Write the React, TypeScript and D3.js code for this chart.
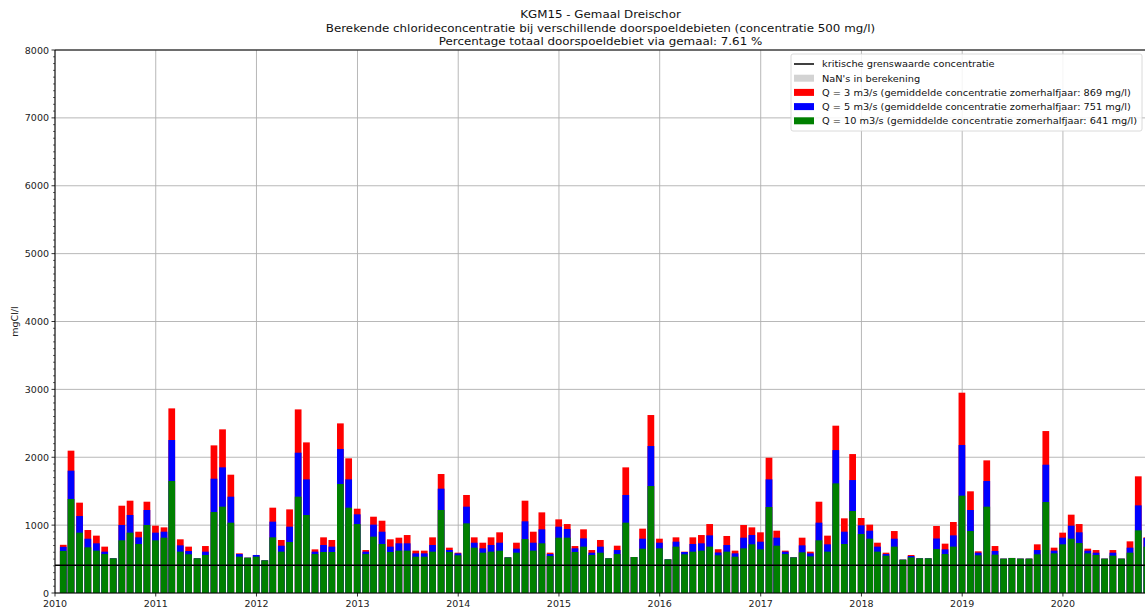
import React from "react";
import * as d3 from "d3";

// ---- Data (monthly, Jan 2010 .. Oct 2020), values in mg Cl/l ----
const startYear = 2010;
// Q = 10 m3/s (green)
const q10: number[] = [
  620, 1385, 889, 673, 624, 574, 511, 776, 889, 722, 1002, 776,
  815, 1650, 609, 570, 511, 560, 1193, 1272, 1036, 535, 520, 535,
  481, 820, 609, 751, 1419, 1149, 574, 604, 604, 1606, 1257, 1016,
  574, 830, 722, 604, 624, 624, 535, 535, 609, 1223, 604, 555,
  1026, 668, 594, 609, 624, 525, 594, 795, 624, 732, 545, 815,
  815, 604, 683, 560, 594, 511, 574, 1036, 530, 653, 1576, 658,
  496, 683, 570, 609, 624, 683, 555, 609, 535, 658, 717, 643,
  1267, 697, 574, 525, 599, 540, 776, 609, 1615, 722, 1208, 869,
  800, 609, 550, 683, 491, 525, 511, 511, 648, 574, 683, 1434,
  913, 555, 1272, 565, 506, 516, 506, 506, 570, 1340, 584, 717,
  800, 736, 584, 560, 506, 550, 506, 594, 923, 683,
];
// Q = 5 m3/s (blue)
const q5: number[] = [
  680, 1802, 1134, 800, 732, 609, 511, 1002, 1149, 820, 1223, 889,
  903, 2254, 702, 619, 511, 609, 1684, 1851, 1419, 574, 520, 560,
  481, 1051, 697, 977, 2067, 1674, 609, 707, 683, 2121, 1674, 1159,
  609, 1007, 903, 683, 732, 732, 584, 584, 707, 1537, 633, 584,
  1272, 741, 658, 707, 741, 525, 653, 1056, 741, 938, 574, 977,
  943, 658, 805, 594, 683, 511, 633, 1444, 530, 800, 2165, 741,
  496, 756, 604, 722, 732, 849, 597, 707, 584, 815, 854, 756,
  1674, 815, 609, 525, 702, 584, 1036, 717, 2106, 903, 1664, 997,
  918, 683, 574, 800, 491, 545, 511, 511, 803, 643, 849, 2180,
  1223, 594, 1650, 619, 506, 516, 506, 506, 633, 1890, 624, 815,
  992, 894, 624, 594, 506, 594, 506, 668, 1291, 810,
];
// Q = 3 m3/s (red)
const q3: number[] = [
  710, 2097, 1331, 928, 845, 683, 511, 1286, 1360, 903, 1345, 992,
  967, 2720, 791, 683, 511, 692, 2175, 2411, 1743, 584, 520, 560,
  481, 1257, 781, 1232, 2705, 2219, 643, 820, 781, 2499, 1984, 1242,
  633, 1124, 1065, 791, 815, 854, 624, 624, 820, 1753, 668, 594,
  1444, 820, 741, 820, 894, 525, 741, 1360, 903, 1188, 594, 1085,
  1016, 692, 938, 633, 781, 511, 697, 1851, 530, 948, 2622, 800,
  496, 820, 609, 820, 854, 1016, 645, 840, 624, 1002, 967, 894,
  1993, 918, 624, 525, 815, 609, 1345, 845, 2465, 1100, 2047, 1105,
  1007, 741, 594, 913, 491, 560, 511, 511, 987, 727, 1046, 2951,
  1498, 614, 1954, 692, 506, 516, 506, 506, 717, 2386, 668, 889,
  1154, 1016, 653, 633, 506, 633, 506, 761, 1719, 820,
];
const criticalValue = 410;
const yTicks = [0, 1000, 2000, 3000, 4000, 5000, 6000, 7000, 8000];
const xTickYears = [2010, 2011, 2012, 2013, 2014, 2015, 2016, 2017, 2018, 2019, 2020];
const titleLines = [
  "KGM15 - Gemaal Dreischor",
  "Berekende chlorideconcentratie bij verschillende doorspoeldebieten (concentratie 500 mg/l)",
  "Percentage totaal doorspoeldebiet via gemaal: 7.61 %",
];
const legendItems = [
  { label: "kritische grenswaarde concentratie", color: "#000000", kind: "line" },
  { label: "NaN's in berekening", color: "#d3d3d3", kind: "patch" },
  { label: "Q = 3 m3/s (gemiddelde concentratie zomerhalfjaar: 869 mg/l)", color: "#ff0000", kind: "patch" },
  { label: "Q = 5 m3/s (gemiddelde concentratie zomerhalfjaar: 751 mg/l)", color: "#0000ff", kind: "patch" },
  { label: "Q = 10 m3/s (gemiddelde concentratie zomerhalfjaar: 641 mg/l)", color: "#008000", kind: "patch" },
];

const W = 1145;
const H = 612;
const left = 55;
const right = 1146;
const top = 50;
const bottom = 593;
const FONT = "DejaVu Sans, sans-serif";

export default function App() {
  const x = d3
    .scaleUtc()
    .domain([new Date(Date.UTC(2010, 0, 1)), new Date(Date.UTC(2020, 9, 28))])
    .range([left, right]);
  const y = d3.scaleLinear().domain([0, 8000]).range([bottom, top]);

  const dayMs = 24 * 3600 * 1000;
  const months = q10.map((_, i) => new Date(Date.UTC(startYear, i + 1, 0)));
  const halfW = (d: Date) => (x(new Date(d.getTime() + 12.2 * dayMs)) - x(new Date(d.getTime() - 12.2 * dayMs))) / 2;

  const series = [
    { vals: q3, color: "#ff0000" },
    { vals: q5, color: "#0000ff" },
    { vals: q10, color: "#008000" },
  ];

  const minorY = d3.range(0, 8001, 100).filter((v) => v % 1000 !== 0);

  const legX = 791;
  const legY = 54;
  const legW = 351;
  const legH = 77;
  const rowH = 14.2;
  const titleBase = [18, 31.5, 45];

  return (
    <svg width={W} height={H} style={{ position: "absolute", left: 0, top: 0, background: "#fff" }}>
      <defs>
        <clipPath id="plotclip">
          <rect x={left} y={top} width={right - left} height={bottom - top} />
        </clipPath>
      </defs>
      <rect x={0} y={0} width={W} height={H} fill="#fff" />
      {/* titles */}
      {titleLines.map((t, i) => (
        <text
          key={i}
          transform={`translate(${(left + right) / 2},${titleBase[i]}) scale(1.1,1)`}
          textAnchor="middle"
          fontFamily={FONT}
          fontSize={10.8}
          fill="#111"
        >
          {t}
        </text>
      ))}
      {/* grid */}
      <g stroke="#b0b0b0" strokeWidth={0.9}>
        {yTicks.map((v) => (
          <line key={"gy" + v} x1={left} x2={right} y1={y(v)} y2={y(v)} />
        ))}
        {xTickYears.map((yr) => {
          const px = x(new Date(Date.UTC(yr, 0, 1)));
          return <line key={"gx" + yr} x1={px} x2={px} y1={top} y2={bottom} />;
        })}
      </g>
      {/* bars */}
      <g clipPath="url(#plotclip)">
        {series.map((s, si) => (
          <g key={si} fill={s.color}>
            {s.vals.map((v, i) => {
              const d = months[i];
              const hw = halfW(d);
              return <rect key={i} x={x(d) - hw} y={y(v)} width={hw * 2} height={y(0) - y(v)} />;
            })}
          </g>
        ))}
        <line x1={left} x2={right} y1={y(criticalValue)} y2={y(criticalValue)} stroke="#000" strokeWidth={1.5} />
      </g>
      {/* axes spines */}
      <g stroke="#000" strokeWidth={1}>
        <line x1={left} x2={right} y1={top} y2={top} />
        <line x1={left} x2={right} y1={bottom} y2={bottom} />
        <line x1={left} x2={left} y1={top} y2={bottom} />
        <line x1={right} x2={right} y1={top} y2={bottom} />
      </g>
      {/* ticks */}
      <g stroke="#000" strokeWidth={0.8}>
        {yTicks.map((v) => (
          <line key={"ty" + v} x1={left - 3.5} x2={left} y1={y(v)} y2={y(v)} />
        ))}
        {minorY.map((v) => (
          <line key={"my" + v} x1={left - 2} x2={left} y1={y(v)} y2={y(v)} strokeWidth={0.6} />
        ))}
        {xTickYears.map((yr) => {
          const px = x(new Date(Date.UTC(yr, 0, 1)));
          return <line key={"tx" + yr} x1={px} x2={px} y1={bottom} y2={bottom + 3.5} />;
        })}
      </g>
      {yTicks.map((v) => (
        <text key={"ly" + v} x={left - 6} y={y(v) + 3.5} textAnchor="end" fontFamily={FONT} fontSize={9.5} fill="#222">
          {v}
        </text>
      ))}
      {xTickYears.map((yr) => (
        <text key={"lx" + yr} x={x(new Date(Date.UTC(yr, 0, 1)))} y={bottom + 14} textAnchor="middle" fontFamily={FONT} fontSize={9.5} fill="#222">
          {yr}
        </text>
      ))}
      <text transform={`translate(18,${(top + bottom) / 2}) rotate(-90)`} textAnchor="middle" fontFamily={FONT} fontSize={9.5} fill="#222">
        mgCl/l
      </text>
      {/* legend */}
      <rect x={legX} y={legY} width={legW} height={legH} fill="#fff" fillOpacity={0.85} stroke="#d0d0d0" strokeWidth={0.8} rx={2} />
      {legendItems.map((it, i) => {
        const cy = legY + 10 + i * rowH;
        return (
          <g key={"leg" + i}>
            {it.kind === "line" ? (
              <line x1={legX + 3} x2={legX + 23} y1={cy} y2={cy} stroke={it.color} strokeWidth={1.5} />
            ) : (
              <rect x={legX + 3} y={cy - 3.5} width={20} height={7} fill={it.color} />
            )}
            <text
              transform={`translate(${legX + 31},${cy + 3.3}) scale(1.04,1)`}
              fontFamily={FONT}
              fontSize={9.4}
              fill="#111"
            >
              {it.label}
            </text>
          </g>
        );
      })}
    </svg>
  );
}
